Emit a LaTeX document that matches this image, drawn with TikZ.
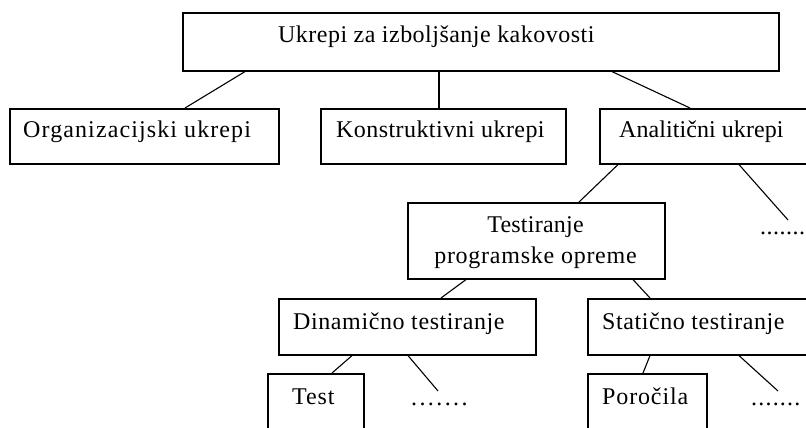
\documentclass[tikz,border=0pt]{standalone}
\usepackage{fontspec}
\setmainfont{Liberation Serif}
\usetikzlibrary{calc}
\newcommand{\lsp}[2]{{\addfontfeature{LetterSpace=#1}#2}}
\begin{document}
\begin{tikzpicture}[x=1pt,y=-1pt,
  box/.style={draw=black, line width=1.6pt, rectangle, inner sep=0pt, anchor=north west},
  lbl/.style={inner sep=0pt, anchor=base west, font=\fontsize{24}{28}\selectfont},
  clbl/.style={lbl, anchor=base},
  conn/.style={draw=black, line width=1.1pt}]
\useasboundingbox (0,0) rectangle (806,428);
\fill[white] (0,0) rectangle (806,428);
\clip (0,0) rectangle (806,428);
% boxes
\node[box, minimum width=596pt, minimum height=58pt] (top) at (182,12) {};
\node[box, minimum width=269pt, minimum height=55pt] (org) at (9,108) {};
\node[box, minimum width=245pt, minimum height=55pt] (kon) at (320,108) {};
\node[box, minimum width=231pt, minimum height=55pt] (ana) at (599,108) {};
\node[box, minimum width=257pt, minimum height=76pt] (tes) at (407,202) {};
\node[box, minimum width=257pt, minimum height=56pt] (din) at (278,298) {};
\node[box, minimum width=243pt, minimum height=56pt] (sta) at (587,298) {};
\node[box, minimum width=96pt, minimum height=77pt] (tst) at (267,373) {};
\node[box, minimum width=119pt, minimum height=77pt] (por) at (587,373) {};
% texts
\node[lbl] (ttop) at (278,43) {\lsp{2}{Ukrepi za izboljšanje kakovosti}};
\node[lbl] (torg) at (23,137) {\lsp{4.6}{Organizacijski ukrepi}};
\node[lbl] (tkon) at (336,137) {\lsp{1.8}{Konstruktivni ukrepi}};
\node[lbl] (tana) at (619,137) {\lsp{0.3}{Analitični ukrepi}};
\node[clbl] (ttes1) at (535.5,232) {\lsp{1}{Testiranje}};
\node[clbl] (ttes2) at (535.5,263) {\lsp{3.1}{programske opreme}};
\node[lbl] (tdin) at (293,329) {\lsp{2.5}{Dinamično testiranje}};
\node[lbl] (tsta) at (602,329) {\lsp{2.4}{Statično testiranje}};
\node[lbl] (ttst) at (292,404) {\lsp{3.7}{Test}};
\node[lbl] (tpor) at (602,404) {\lsp{3.6}{Poročila}};
% dots
\node[lbl] (dots1) at (760,234) {\lsp{2}{.......}};
\node[lbl] (dots2) at (411,405) {\lsp{10}{.......}};
\node[lbl] (dots3) at (751,405) {\lsp{5}{.......}};
\coordinate (e1) at (788,220);
\coordinate (e2) at (438,391);
\coordinate (e3) at (778,391);
% connectors
\draw[conn] ($(top.south west)+(63,0)$) -- ($(org.north west)+(176,0)$);
\draw[conn] ($(top.south west)+(257,0)$) -- ($(kon.north west)+(119,0)$);
\draw[conn] ($(top.south west)+(430,0)$) -- ($(ana.north west)+(91,0)$);
\draw[conn] ($(ana.south west)+(19,0)$) -- ($(tes.north west)+(172,0)$);
\draw[conn] ($(ana.south west)+(140,0)$) -- (e1);
\draw[conn] ($(tes.south west)+(59,0)$) -- ($(din.north west)+(163,0)$);
\draw[conn] ($(tes.south west)+(226,0)$) -- ($(sta.north west)+(63,0)$);
\draw[conn] ($(din.south west)+(74,0)$) -- ($(tst.north west)+(65,0)$);
\draw[conn] ($(din.south west)+(130,0)$) -- (e2);
\draw[conn] ($(sta.south west)+(63,0)$) -- ($(por.north west)+(56,0)$);
\draw[conn] ($(sta.south west)+(152,0)$) -- (e3);
\end{tikzpicture}
\end{document}
